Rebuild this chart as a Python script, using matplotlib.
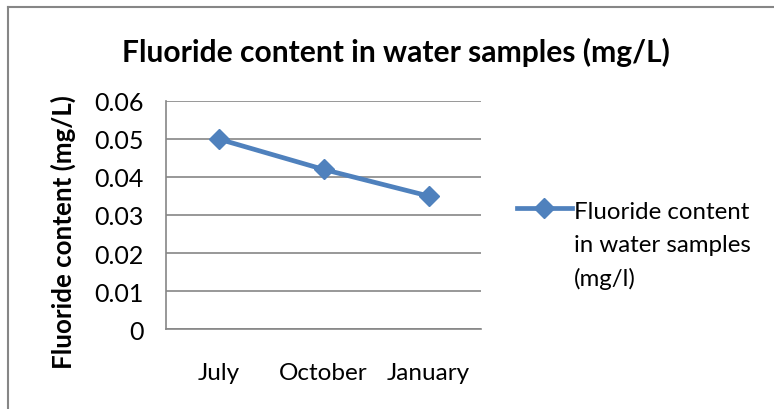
import numpy as np
import matplotlib.pyplot as plt
from matplotlib.lines import Line2D
from matplotlib.legend_handler import HandlerLine2D

months = ["July", "October", "January"]
fluoride = [0.050, 0.042, 0.035]
yticks = [0, 0.01, 0.02, 0.03, 0.04, 0.05, 0.06]
ytick_labels = ["0", "0.01", "0.02", "0.03", "0.04", "0.05", "0.06"]

plt.rcParams['font.family'] = ['Lato', 'DejaVu Sans']


class TopLineHandler(HandlerLine2D):
    # put the legend key level with the first line of a multi-line label
    def __init__(self, shift, **kw):
        super().__init__(**kw)
        self.shift = shift

    def create_artists(self, legend, orig_handle, xdescent, ydescent, width,
                       height, fontsize, trans):
        arts = super().create_artists(legend, orig_handle, xdescent, ydescent,
                                      width, height, fontsize, trans)
        for a in arts:
            a.set_ydata(np.asarray(a.get_ydata(), dtype=float) + self.shift)
        return arts


W, H = 774, 410
fig = plt.figure(figsize=(W / 100, H / 100), dpi=100)
ax = fig.add_axes([166 / W, 1 - 330 / H, (481 - 166) / W, (330 - 102) / H])

x = list(range(len(months)))
line, = ax.plot(x, fluoride, color="#4F81BD", linewidth=3.4, marker="D",
                markersize=10, label="Fluoride content\nin water samples\n(mg/l)")

ax.set_xlim(-0.5, 2.5)
ax.set_ylim(0, 0.06)
ax.set_yticks(yticks)
ax.set_yticklabels(ytick_labels, fontsize=18)
ax.set_xticks(x)
ax.set_xticklabels(months, fontsize=17.5)
ax.tick_params(length=0)
ax.tick_params(axis="y", pad=16)
ax.tick_params(axis="x", pad=24)
ax.grid(axis="y", color="#868686", linewidth=1.2)
ax.set_axisbelow(True)
for s in ["top", "right"]:
    ax.spines[s].set_visible(False)
for s in ["left", "bottom"]:
    ax.spines[s].set_color("#868686")
    ax.spines[s].set_linewidth(1.2)

fig.text(396 / W, 1 - 52 / H, "Fluoride content in water samples (mg/L)",
         fontsize=21.6, fontweight="bold", ha="center", va="center")
fig.text(63 / W, 1 - 232 / H, "Fluoride content (mg/L)", fontsize=18.6,
         fontweight="bold", rotation=90, ha="center", va="center")

leg = fig.legend(handles=[line], loc="center left", bbox_to_anchor=(507 / W, 1 - 246 / H),
                 frameon=False, fontsize=17.3, handlelength=2.3, handletextpad=0.1,
                 borderaxespad=0, labelspacing=0.2,
                 handler_map={line: TopLineHandler(shift=26.4)})
for t in leg.get_texts():
    t.set_linespacing(1.7)

# chart border (cropped on right and bottom)
fig.add_artist(Line2D([8 / W, 1], [1 - 8 / H, 1 - 8 / H], color="#868686", linewidth=1.5))
fig.add_artist(Line2D([8 / W, 8 / W], [1 - 8 / H, 0], color="#868686", linewidth=1.5))

fig.savefig("out.png", dpi=100, facecolor="white")
